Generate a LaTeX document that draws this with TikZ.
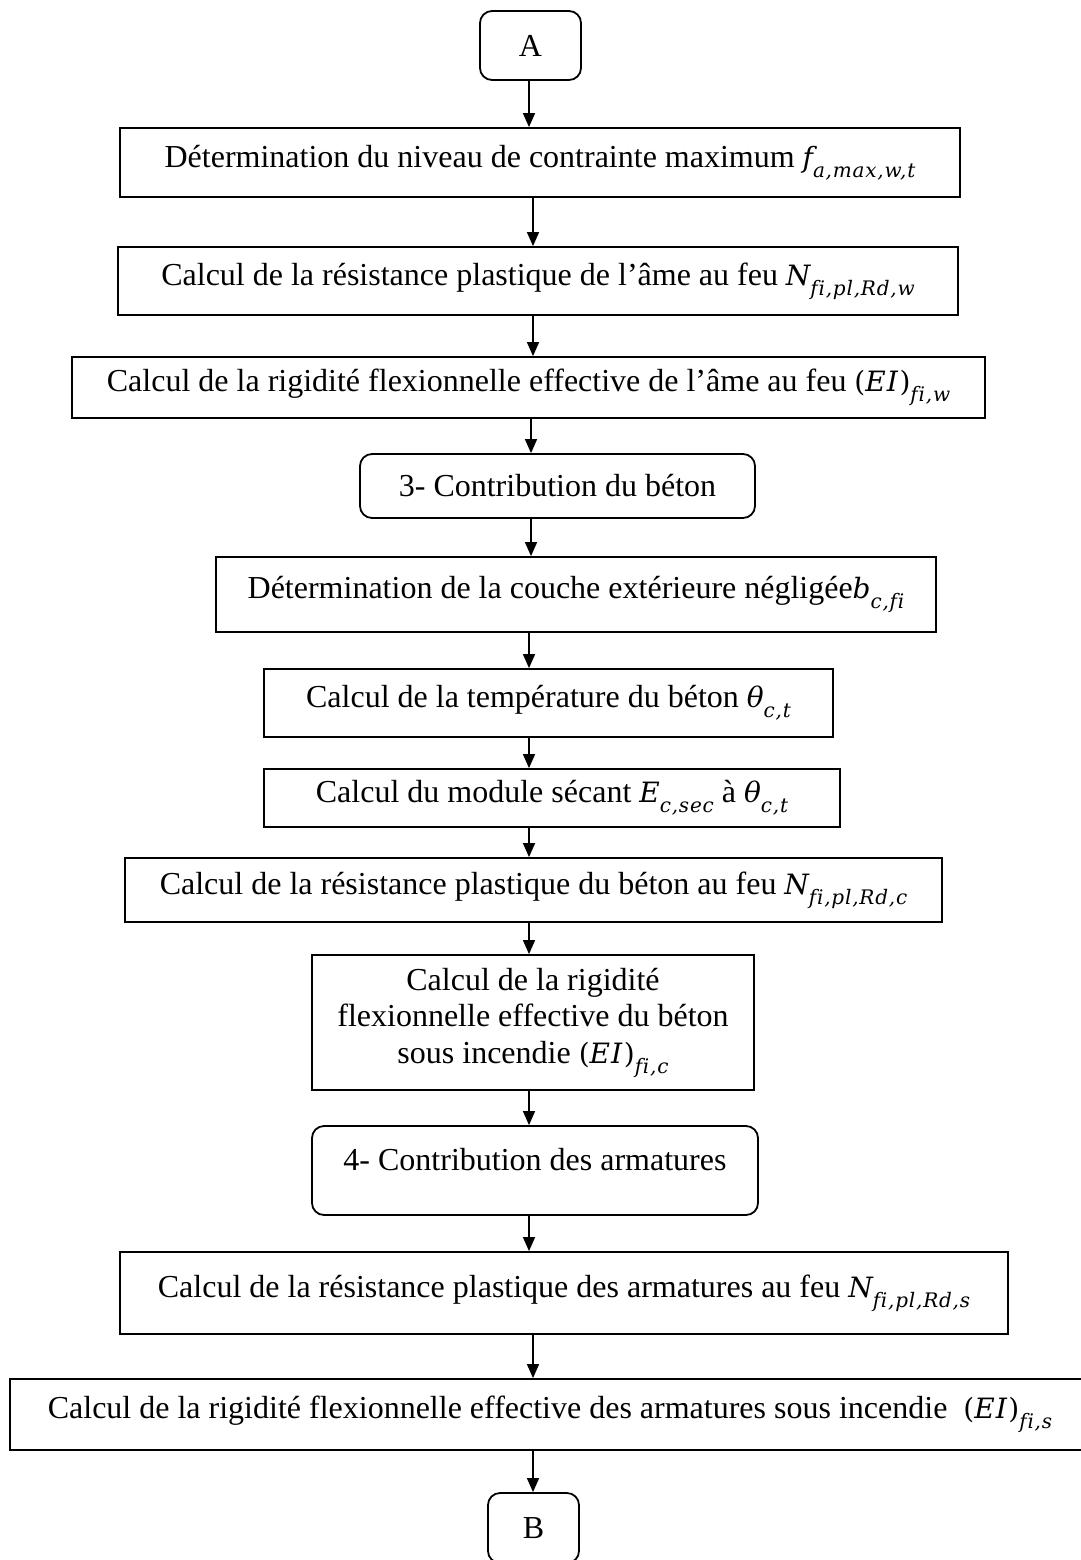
\documentclass[tikz,border=0pt]{standalone}
\usepackage{fontspec}
\setmainfont{Liberation Serif}
\newfontfamily\mf{DejaVu Serif}[Ligatures={NoCommon,NoRequired},LetterSpace=4]
\usetikzlibrary{arrows.meta}
\newcommand\sbs[1]{\raisebox{-10pt}{\fontsize{20}{21}\selectfont\mf\itshape #1}}
\newcommand\mth[2]{{\fontsize{28}{30}\selectfont\mf\itshape #1\sbs{#2}}}
\newcommand\mtp[2]{{\fontsize{28}{30}\selectfont\mf (\textit{#1})\sbs{#2}}}
\begin{document}
\begin{tikzpicture}[x=1pt,y=-1pt,
  every node/.style={font=\fontsize{32}{36.5}\selectfont},
  boxx/.style={draw,line width=1.8pt,inner sep=0pt,align=center},
  rbox/.style={boxx,rounded corners=12pt},
  arr/.style={line width=1.5pt,-{Triangle[length=14pt,width=12pt]}}]
\useasboundingbox (0,0) rectangle (1080,1560);
\node[rbox,minimum width=101,minimum height=69] (a) at (530.5,45.5) {A};
\node[boxx,minimum width=840,minimum height=69] (b1) at (540,162.5) {Détermination du niveau de contrainte maximum \mth{f}{a,max,w,t}};
\node[boxx,minimum width=840,minimum height=68] (b2) at (538,281) {Calcul de la résistance plastique de l’âme au feu \mth{N}{f{}i,pl,Rd,w}};
\node[boxx,minimum width=913,minimum height=61] (b3) at (528.5,387.5) {Calcul de la rigidité flexionnelle effective de l’âme au feu \mtp{EI}{f{}i,w}};
\node[rbox,minimum width=395,minimum height=64] (c3) at (557.5,486) {3- Contribution du béton};
\node[boxx,minimum width=720,minimum height=75] (b4) at (576,594.5) {Détermination de la couche extérieure négligée\mth{b}{c,f{}i}};
\node[boxx,minimum width=569,minimum height=68] (b5) at (548.5,703) {Calcul de la température du béton \mth{θ}{c,t}};
\node[boxx,minimum width=576,minimum height=58] (b6) at (552,798) {Calcul du module sécant \mth{E}{c,sec} à \mth{θ}{c,t}};
\node[boxx,minimum width=817,minimum height=64] (b7) at (533.5,890) {Calcul de la résistance plastique du béton au feu \mth{N}{f{}i,pl,Rd,c}};
\node[boxx,minimum width=442,minimum height=135] (b8) at (533,1022.5) {Calcul de la rigidité\\flexionnelle effective du béton\\sous incendie \mtp{EI}{f{}i,c}};
\node[rbox,minimum width=446,minimum height=89,text height=22pt,text depth=22pt] (c4) at (535,1170.5) {4- Contribution des armatures};
\node[boxx,minimum width=888,minimum height=82] (b9) at (564,1293) {Calcul de la résistance plastique des armatures au feu \mth{N}{f{}i,pl,Rd,s}};
\node[boxx,minimum width=1080,minimum height=71] (b10) at (550,1414.5) {Calcul de la rigidité flexionnelle effective des armatures sous incendie \ \mtp{EI}{f{}i,s}};
\node[rbox,minimum width=91,minimum height=70] (bb) at (533.5,1528) {B};
\draw[arr] (a.south -| 529,0) -- (b1.north -| 529,0);
\draw[arr] (b1.south -| 533,0) -- (b2.north -| 533,0);
\draw[arr] (b2.south -| 533,0) -- (b3.north -| 533,0);
\draw[arr] (b3.south -| 531,0) -- (c3.north -| 531,0);
\draw[arr] (c3.south -| 531,0) -- (b4.north -| 531,0);
\draw[arr] (b4.south -| 529,0) -- (b5.north -| 529,0);
\draw[arr] (b5.south -| 529,0) -- (b6.north -| 529,0);
\draw[arr] (b6.south -| 529,0) -- (b7.north -| 529,0);
\draw[arr] (b7.south -| 529,0) -- (b8.north -| 529,0);
\draw[arr] (b8.south -| 529,0) -- (c4.north -| 529,0);
\draw[arr] (c4.south -| 529,0) -- (b9.north -| 529,0);
\draw[arr] (b9.south -| 533,0) -- (b10.north -| 533,0);
\draw[arr] (b10.south -| 533,0) -- (bb.north -| 533,0);
\end{tikzpicture}
\end{document}
